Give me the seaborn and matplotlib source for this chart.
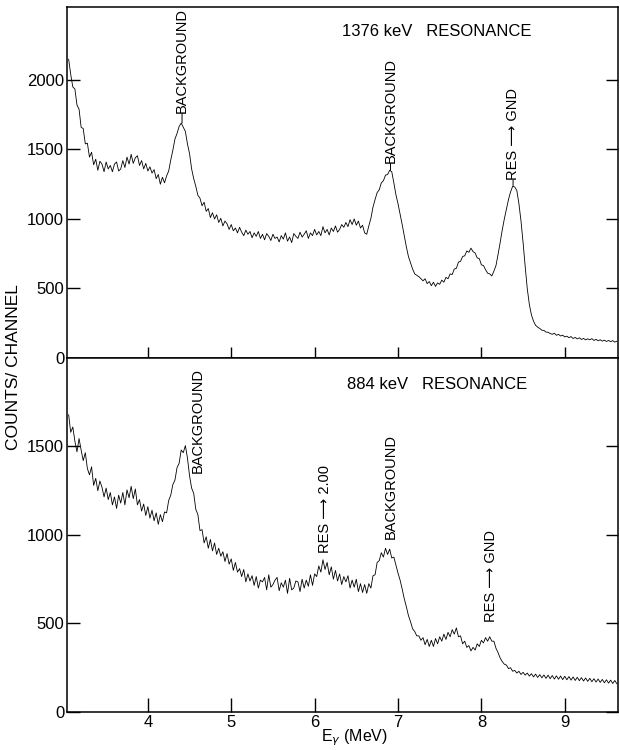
import numpy as np
import matplotlib
matplotlib.use("Agg")
import matplotlib.pyplot as plt
import seaborn as sns

# channel energies (MeV), 0.025 MeV per channel starting at 3.05
energy_mev = np.round(3.05 + 0.025 * np.arange(264), 3)

# 1376 keV resonance spectrum, counts per channel
top_counts = [
    2150, 2040, 1950, 1935, 1820, 1790, 1660, 1650, 1540, 1545,
    1445, 1480, 1390, 1430, 1350, 1415, 1395, 1340, 1410, 1360,
    1385, 1340, 1395, 1410, 1345, 1360, 1420, 1370, 1445, 1395,
    1465, 1400, 1440, 1455, 1385, 1420, 1360, 1400, 1345, 1375,
    1330, 1355, 1290, 1320, 1250, 1300, 1260, 1310, 1345, 1425,
    1495, 1575, 1615, 1665, 1690, 1660, 1630, 1540, 1470, 1360,
    1290, 1235, 1170, 1150, 1095, 1120, 1055, 1075, 1010, 1045,
    1000, 1030, 975, 1005, 950, 985, 965, 925, 960, 915,
    935, 900, 940, 905, 880, 920, 890, 910, 865, 900,
    875, 910, 860, 890, 850, 895, 875, 845, 890, 860,
    870, 835, 880, 855, 900, 840, 870, 830, 895, 875,
    860, 905, 870, 890, 915, 860, 900, 880, 925, 885,
    910, 880, 945, 900, 925, 885, 935, 910, 950, 905,
    925, 960, 940, 975, 945, 995, 960, 1000, 955, 985,
    935, 955, 900, 890, 950, 1005, 1085, 1140, 1190, 1210,
    1260, 1275, 1315, 1320, 1350, 1340, 1260, 1175, 1110, 1035,
    960, 880, 800, 730, 685, 640, 605, 595, 585, 570,
    555, 570, 535, 550, 520, 545, 515, 540, 530, 560,
    545, 580, 570, 605, 600, 640, 645, 690, 695, 730,
    735, 770, 760, 790, 765, 755, 720, 715, 670, 665,
    635, 610, 605, 590, 625, 665, 745, 830, 920, 1000,
    1070, 1140, 1195, 1235, 1230, 1205, 1110, 985, 830, 660,
    500, 385, 310, 265, 235, 222, 212, 200, 198, 186,
    185, 176, 170, 178, 163, 170, 158, 164, 151, 157,
    146, 154, 140, 148, 137, 145, 133, 141, 130, 138,
    131, 139, 126, 134, 124, 131, 121, 128, 119, 126,
    117, 125, 114, 121,
]

# 884 keV resonance spectrum
bottom_counts = [
    1680, 1580, 1610, 1530, 1470, 1545, 1480, 1420, 1465, 1375,
    1340, 1385, 1280, 1320, 1250, 1305, 1270, 1215, 1265, 1200,
    1240, 1170, 1215, 1150, 1225, 1180, 1240, 1170, 1255, 1210,
    1275, 1205, 1260, 1170, 1200, 1135, 1175, 1110, 1160, 1095,
    1140, 1080, 1125, 1060, 1115, 1075, 1130, 1125, 1195, 1225,
    1285, 1310, 1380, 1405, 1480, 1465, 1505, 1435, 1335, 1265,
    1235, 1145, 1115, 1025, 1030, 955, 990, 925, 975, 910,
    955, 890, 925, 880, 905, 850, 895, 835, 865, 800,
    845, 790, 810, 765, 805, 735, 780, 740, 770, 715,
    765, 700, 745, 735, 760, 690, 775, 705, 720, 745,
    760, 685, 730, 705, 745, 670, 755, 690, 700, 740,
    735, 680, 750, 700, 745, 710, 775, 715, 780, 765,
    825, 790, 860, 805, 845, 775, 820, 750, 800, 740,
    780, 720, 765, 735, 770, 700, 745, 705, 750, 680,
    725, 675, 720, 670, 725, 700, 770, 775, 845, 855,
    900, 875, 925, 890, 920, 870, 875, 830, 785, 745,
    695, 640, 595, 545, 510, 470, 455, 430, 430, 405,
    420, 380, 410, 370, 405, 370, 415, 385, 425, 400,
    440, 410, 450, 425, 465, 440, 475, 425, 430, 385,
    400, 365, 375, 345, 365, 350, 385, 370, 405, 390,
    420, 400, 425, 400, 400, 360, 335, 305, 285, 270,
    265, 245, 250, 230, 235, 220, 230, 212, 224, 208,
    220, 203, 216, 198, 214, 195, 211, 193, 209, 190,
    208, 188, 206, 186, 204, 185, 203, 183, 202, 182,
    200, 180, 198, 178, 196, 177, 194, 175, 192, 173,
    190, 171, 188, 169, 186, 167, 184, 165, 182, 163,
    180, 161, 178, 159,
]

x_ticks = [4, 5, 6, 7, 8, 9]
top_yticks = [0, 500, 1000, 1500, 2000]
bottom_yticks = [0, 500, 1000, 1500]

# (label, energy, counts at lower end of text, counts of peak)
top_labels = [
    ("BACKGROUND", 4.41, 1760, 1690),
    ("BACKGROUND", 6.91, 1400, 1350),
    ("RES \u27f6 GND", 8.38, 1280, 1240),
]
bottom_labels = [
    ("BACKGROUND", 4.60, 1350, None),
    ("RES \u27f6 2.00", 6.12, 900, None),
    ("BACKGROUND", 6.91, 975, None),
    ("RES \u27f6 GND", 8.11, 510, None),
]

sns.set_style("ticks")
plt.rcParams["font.family"] = ["Liberation Sans", "DejaVu Sans"]
plt.rcParams["mathtext.fontset"] = "dejavusans"
plt.rcParams["text.color"] = "black"
plt.rcParams["xtick.color"] = "black"
plt.rcParams["ytick.color"] = "black"
plt.rcParams["axes.edgecolor"] = "black"

fig = plt.figure(figsize=(6.2, 7.5), dpi=100)
ax_top = fig.add_axes([0.108, 0.5227, 0.889, 0.468])
ax_bot = fig.add_axes([0.108, 0.0507, 0.889, 0.472])

panels = [
    (ax_top, top_counts, 2525, top_yticks, top_labels, "1376 keV   RESONANCE", 2345),
    (ax_bot, bottom_counts, 2000, bottom_yticks, bottom_labels, "884 keV   RESONANCE", 1850),
]

for ax, counts, ytop, yticks, labels, title, title_y in panels:
    sns.lineplot(x=energy_mev, y=counts, ax=ax, color="black",
                 linewidth=0.6, estimator=None, sort=False)
    ax.set_xlim(3.03, 9.64)
    ax.set_ylim(0, ytop)
    ax.set_xticks(x_ticks)
    ax.set_yticks(yticks)
    ax.set_xlabel("")
    ax.set_ylabel("")
    for sp in ax.spines.values():
        sp.set_linewidth(1.1)
        sp.set_visible(True)
    ax.tick_params(axis="y", which="both", direction="in", length=9, width=1.0,
                   left=True, right=True, labelsize=12, pad=2)
    ax.text(7.47, title_y, title, ha="center", va="center", fontsize=12)
    for txt, xe, ybase, ypeak in labels:
        ax.text(xe, ybase, txt, rotation=90, ha="center", va="bottom", fontsize=10.5)
        if ypeak is not None:
            ax.annotate("", xy=(xe, ypeak), xytext=(xe, ybase),
                        arrowprops=dict(arrowstyle="-", lw=0.7, color="black",
                                        shrinkA=0, shrinkB=0))

ax_top.tick_params(axis="x", direction="inout", length=16, width=1.0,
                   labelbottom=False)
ax_bot.tick_params(axis="x", direction="in", length=10, width=1.0,
                   labelsize=12, pad=2)

fig.text(0.022, 0.51, "COUNTS/ CHANNEL", rotation=90, ha="center", va="center",
         fontsize=12.5)
fig.text(0.572, 0.002, r"E$_\gamma$ (MeV)", ha="center", va="bottom", fontsize=11.5)

fig.savefig("out.png", dpi=100)
